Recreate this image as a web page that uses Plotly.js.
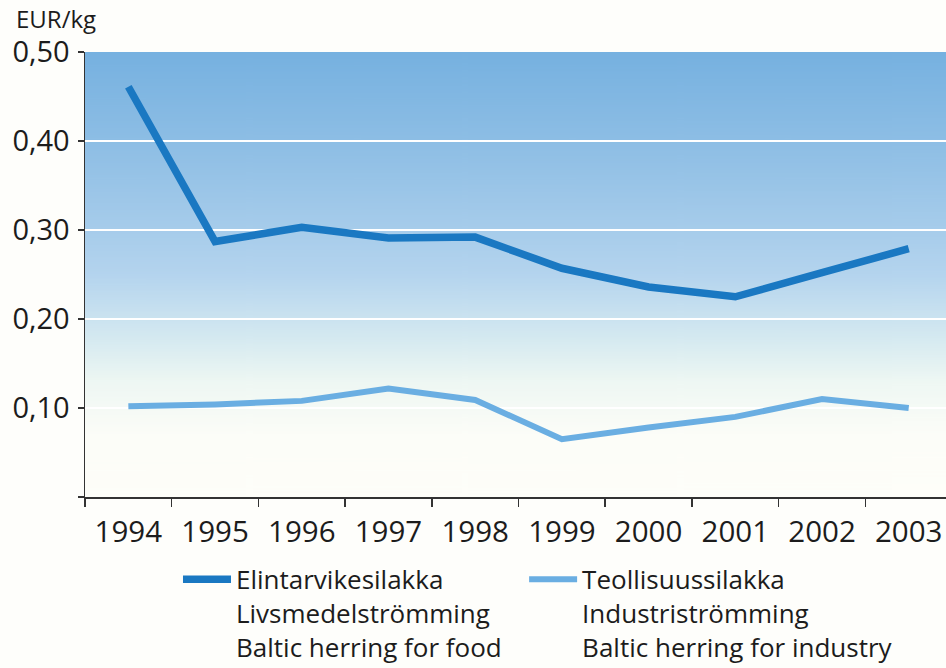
<!DOCTYPE html>
<html>
<head>
<meta charset="utf-8">
<script src="https://cdn.plot.ly/plotly-3.0.1.min.js"></script>
<style>
  html, body { margin: 0; padding: 0; background: #fefefb; }
  #chart { width: 946px; height: 668px; }
</style>
</head>
<body>
<div id="chart"></div>
<script>
const years = [1994, 1995, 1996, 1997, 1998, 1999, 2000, 2001, 2002, 2003];
const foodValues = [0.461, 0.287, 0.303, 0.291, 0.292, 0.257, 0.236, 0.225, 0.252, 0.279];
const industryValues = [0.102, 0.104, 0.108, 0.122, 0.109, 0.065, 0.078, 0.090, 0.110, 0.100];
const yTickVals = [0, 0.1, 0.2, 0.3, 0.4, 0.5];
const yTickText = ['', '0,10', '0,20', '0,30', '0,40', '0,50'];
const foodName = 'Elintarvikesilakka<br>Livsmedelströmming<br>Baltic herring for food';
const industryName = 'Teollisuussilakka<br>Industriströmming<br>Baltic herring for industry';

// gradient background image
const cv = document.createElement('canvas');
cv.width = 8; cv.height = 512;
const cx = cv.getContext('2d');
const g = cx.createLinearGradient(0, 0, 0, 512);
g.addColorStop(0.00, '#76b1e0');
g.addColorStop(0.25, '#93c1e6');
g.addColorStop(0.50, '#b4d4ee');
g.addColorStop(0.66, '#d9ecf1');
g.addColorStop(0.74, '#eef7f3');
g.addColorStop(0.86, '#fcfdf8');
g.addColorStop(1.00, '#fefef9');
cx.fillStyle = g;
cx.fillRect(0, 0, 8, 512);
const bgURL = cv.toDataURL('image/png');

const font = 'Open Sans, Lato, sans-serif';
const txt = '#1c1c1c';

const traces = [
  {
    x: years, y: foodValues, name: foodName, type: 'scatter', mode: 'lines',
    line: { color: '#1a78c2', width: 7.5 }, hoverinfo: 'x+y', legend: 'legend'
  },
  {
    x: years, y: industryValues, name: industryName, type: 'scatter', mode: 'lines',
    line: { color: '#6aaee2', width: 6 }, hoverinfo: 'x+y', legend: 'legend2'
  }
];

const legendBase = {
  orientation: 'v', xanchor: 'left', y: -0.132, yanchor: 'top',
  valign: 'top', font: { family: font, size: 26, color: txt },
  bgcolor: 'rgba(0,0,0,0)', itemwidth: 48
};

const layout = {
  width: 946, height: 668,
  margin: { l: 85, r: 0, t: 52, b: 171, autoexpand: false },
  paper_bgcolor: '#fefefb',
  plot_bgcolor: 'rgba(0,0,0,0)',
  font: { family: font, color: txt, size: 26 },
  showlegend: true,
  legend: Object.assign({}, legendBase, { x: 0.108 }),
  legend2: Object.assign({}, legendBase, { x: 0.510 }),
  xaxis: {
    type: 'linear', range: [1993.5, 2003.43],
    tickvals: years, ticktext: years.map(String),
    ticks: '', showgrid: false, zeroline: false,
    showline: true, linecolor: '#333', linewidth: 1.5,
    tickfont: { family: font, size: 29.5, color: txt },
    minor: { tick0: 1993.5, dtick: 1, ticks: 'outside', ticklen: 8, tickcolor: '#333', tickwidth: 1.5, showgrid: false },
    fixedrange: true, ticklabelstandoff: 8
  },
  yaxis: {
    range: [0, 0.5], tickvals: yTickVals, ticktext: yTickText,
    ticks: 'outside', ticklen: 6, tickcolor: '#333', tickwidth: 1.5,
    showline: true, linecolor: '#333', linewidth: 1.5,
    showgrid: true, gridcolor: '#ffffff', gridwidth: 2,
    zeroline: false, tickfont: { family: font, size: 29, color: txt },
    fixedrange: true, ticklabelstandoff: 2
  },
  images: [{
    source: bgURL, xref: 'paper', yref: 'paper', x: 0, y: 1,
    sizex: 1, sizey: 1, sizing: 'stretch', layer: 'below', xanchor: 'left', yanchor: 'top'
  }],
  annotations: [{
    text: 'EUR/kg', xref: 'paper', yref: 'paper', x: -0.083, y: 1.034,
    xanchor: 'left', yanchor: 'bottom', showarrow: false,
    font: { family: font, size: 24, color: txt }
  }]
};

Plotly.newPlot('chart', traces, layout, { displayModeBar: false, staticPlot: true });
</script>
</body>
</html>
